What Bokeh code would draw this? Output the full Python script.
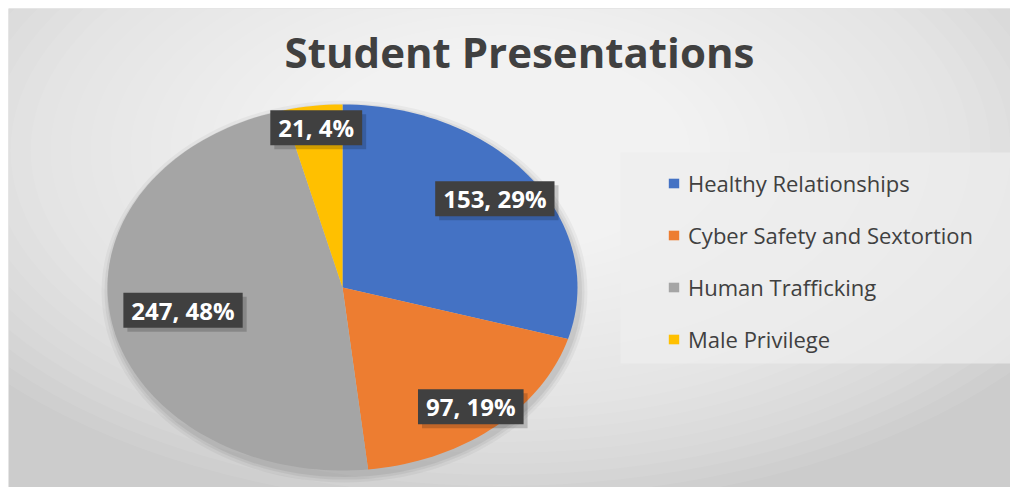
import math
from bokeh.plotting import figure
from bokeh.models import ColumnDataSource, Range1d, Legend, LegendItem, BoxAnnotation
from bokeh.core.properties import value
from bokeh.embed import file_html
from bokeh.resources import INLINE

# ---- data ----
categories = ["Healthy Relationships", "Cyber Safety and Sextortion", "Human Trafficking", "Male Privilege"]
counts = [153, 97, 247, 21]
percent_labels = ["29%", "19%", "48%", "4%"]
colors = ["#4472C4", "#ED7D31", "#A5A5A5", "#FFC000"]
title_text = "Student Presentations"

# ---- layout constants (pixels inside the plot frame) ----
W, H = 1002, 479
CX, CY = 334, 279          # pie centre (from frame top-left)
RX, RY = 235, 183          # pie radii (stretched ellipse)
label_radius = [0.81, 0.85, 0.69, 0.88]

def X(px):
    return (px - CX) / RX

def Y(py):
    return (CY - py) / RY

p = figure(width=W + 8, height=H + 8, output_backend="svg", toolbar_location=None,
           x_range=Range1d(X(0), X(W)), y_range=Range1d(Y(H), Y(0)),
           min_border_left=8, min_border_top=8, min_border_right=0, min_border_bottom=0)
p.axis.visible = False
p.grid.visible = False
p.outline_line_color = None
p.background_fill_color = "#cccccc"
p.border_fill_color = "white"

# soft radial background gradient
gx, gy = X(492), Y(142)
n = 30
for i in range(n):
    wpx = 1300 - i * 40
    hpx = wpx * 0.55
    p.ellipse(x=gx, y=gy, width=wpx / RX, height=hpx / RY,
              fill_color="white", fill_alpha=0.07, line_color=None)

# legend panel
p.add_layout(BoxAnnotation(left=X(612), right=X(1002), top=Y(144), bottom=Y(355),
                           fill_color="#eeeeee", fill_alpha=0.7, line_color=None))

# pie drop shadow
for grow, alpha in [(16, 0.04), (10, 0.05), (5, 0.06)]:
    p.ellipse(x=X(CX + 2), y=Y(CY + 4), width=(2 * RX + grow) / RX, height=(2 * RY + grow) / RY,
              fill_color="black", fill_alpha=alpha, line_color=None)

# ---- pie slices (clockwise from 12 o'clock) ----
total = sum(counts)
xs, ys, mids = [], [], []
start = math.pi / 2
for c in counts:
    span = 2 * math.pi * c / total
    end = start - span
    steps = max(8, int(200 * c / total))
    px = [0.0]
    py = [0.0]
    for k in range(steps + 1):
        a = start + (end - start) * k / steps
        px.append(math.cos(a))
        py.append(math.sin(a))
    xs.append(px)
    ys.append(py)
    mids.append((start + end) / 2)
    start = end

src = ColumnDataSource(dict(xs=xs, ys=ys, color=colors, category=categories))
pie = p.patches(xs="xs", ys="ys", fill_color="color", line_color=None, source=src)

# ---- data labels ----
lab_x = [r * math.cos(m) for r, m in zip(label_radius, mids)]
lab_y = [r * math.sin(m) for r, m in zip(label_radius, mids)]
lab_text = [f"{c}, {pc}" for c, pc in zip(counts, percent_labels)]
lsrc = ColumnDataSource(dict(x=lab_x, y=lab_y, text=lab_text))
shadow_src = ColumnDataSource(dict(x=[v + 4 / RX for v in lab_x], y=[v - 4 / RY for v in lab_y], text=lab_text))
p.text(x="x", y="y", text="text", source=shadow_src, text_align="center", text_baseline="middle",
       text_font=value("Open Sans"), text_font_style="bold", text_font_size="24px",
       text_color="#000000", text_alpha=0.0,
       background_fill_color="#000000", background_fill_alpha=0.18,
       padding=dict(left=8, right=8, top=1, bottom=1))
p.text(x="x", y="y", text="text", source=lsrc, text_align="center", text_baseline="middle",
       text_font=value("Open Sans"), text_font_style="bold", text_font_size="24px",
       text_color="white", background_fill_color="#404040",
       padding=dict(left=8, right=8, top=1, bottom=1))

# ---- title ----
p.text(x=[X(511)], y=[Y(43)], text=[title_text], text_align="center", text_baseline="middle",
       text_font=value("Open Sans"), text_font_style="bold", text_font_size="42px",
       text_color="#404040")

# ---- legend ----
items = [LegendItem(label=cat, renderers=[pie], index=i) for i, cat in enumerate(categories)]
legend = Legend(items=items, location=(659, 133), orientation="vertical",
                label_text_font="Open Sans", label_text_font_size="22px", label_text_color="#404040",
                glyph_width=13, glyph_height=12, label_standoff=8, label_height=30,
                spacing=22, padding=0, margin=0,
                background_fill_alpha=0.0, border_line_color=None)
p.add_layout(legend)

open("out.html", "w").write(file_html(p, INLINE))
